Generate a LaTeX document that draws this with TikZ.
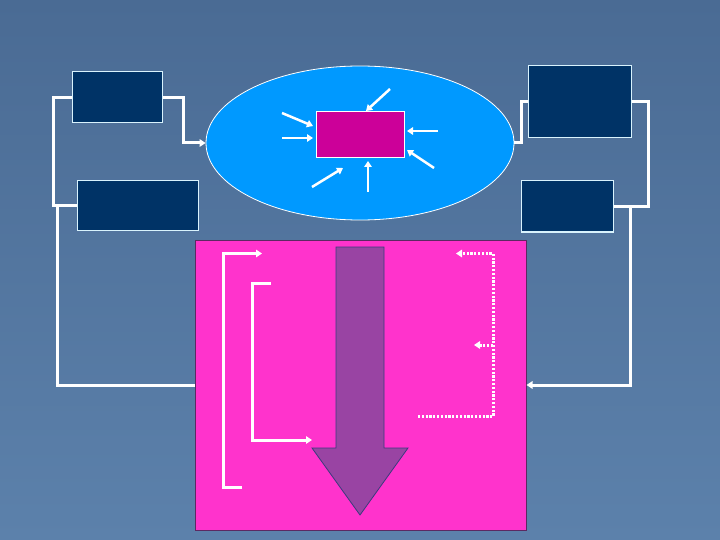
\documentclass[tikz,border=0pt]{standalone}
\usetikzlibrary{arrows.meta,shapes.geometric}
\definecolor{bgtop}{HTML}{4A6B94}
\definecolor{bgbot}{HTML}{5C81AB}
\definecolor{navy}{HTML}{003366}
\definecolor{skyb}{HTML}{0099FF}
\definecolor{mag}{HTML}{CC0099}
\definecolor{pinkbg}{HTML}{FF33CC}
\definecolor{purp}{HTML}{9944A3}
\tikzset{
  darkbox/.style={draw=white!85!cyan, line width=1pt, fill=navy, rectangle, inner sep=0pt},
  conn/.style={draw=white, line width=3pt},
  tip/.style={-{Triangle[length=6pt,width=7.5pt]}},
  dotconn/.style={draw=white, line width=3pt, dash pattern=on 2.2pt off 1.6pt},
}
\begin{document}
\begin{tikzpicture}[x=1pt,y=-1pt]
\useasboundingbox (0,0) rectangle (720,540);
\shade[top color=bgtop, bottom color=bgbot] (0,0) rectangle (720,540);

% boxes
\node[darkbox, minimum width=90pt, minimum height=51pt] (b1) at (117,97.5) {};
\node[darkbox, minimum width=121pt, minimum height=50pt] (b2) at (137.5,206) {};
\node[darkbox, minimum width=103pt, minimum height=72pt] (b3) at (579.5,102) {};
\node[darkbox, minimum width=92pt, minimum height=51pt] (b4) at (567,206.5) {};

% ellipse and centre box
\node[ellipse, draw=white, line width=0.8pt, fill=skyb, minimum width=308pt, minimum height=154pt, inner sep=0pt] (e) at (360,143) {};
\node[rectangle, draw=white, line width=1pt, fill=mag, minimum width=88pt, minimum height=46pt, inner sep=0pt] (m) at (360,135) {};

% pink panel
\node[rectangle, draw=purp!60!black, line width=1pt, fill=pinkbg, minimum width=331pt, minimum height=290pt, inner sep=0pt] (p) at (360.5,385) {};

% big arrow
\draw[draw=purp!40!navy, line width=0.8pt, fill=purp]
  (336,247) -- (384,247) -- (384,448) -- (408,448) -- (360,515) -- (312,448) -- (336,448) -- cycle;

% connectors outside
\draw[conn, tip] (b1.east) -- ++(21,0) |- (e.west);
\draw[conn] (b1.west) -- ++(-18,0) |- (b2.west);
\coordinate (lj) at (57,206);
\draw[conn] (lj) |- (p.west);
\draw[conn] (e.east) -- ++(7,0) |- (b3.west);
\draw[conn] (b3.east) -- ++(17,0) |- (b4.east);
\coordinate (rj) at (630,206);
\draw[conn, tip] (rj) |- (p.east);

% arrows around centre box
\foreach \n/\sx/\sy/\ex/\ey in {a1/282/113/313/126, a2/282/138/313/138, a3/390/89/366/111, a4/438/131/407/131, a5/434/168/407/150, a6/368/192/368/161, a7/312/187/343/168}{
  \coordinate (\n s) at (\sx,\sy);
  \coordinate (\n e) at (\ex,\ey);
  \draw[conn, line width=2.5pt, tip] (\n s) -- (\n e);
}

% brackets inside pink panel
\coordinate (o1) at (262,253.5);
\coordinate (o2) at (242,487);
\draw[conn, tip] (o2) -| (223,253.5) -- (o1);
\coordinate (i1) at (271,283.5);
\coordinate (i2) at (312,440);
\draw[conn, tip] (i1) -| (252.5,440) -- (i2);

% dotted feedback
\coordinate (d0) at (418,416.5);
\coordinate (d1) at (456,253.5);
\coordinate (d2) at (474,345);
\coordinate (dj) at (493,345);
\draw[dotconn, tip] (d0) -| (493,253.5) -- (d1);
\draw[dotconn, tip] (dj) -- (d2);
\end{tikzpicture}
\end{document}
